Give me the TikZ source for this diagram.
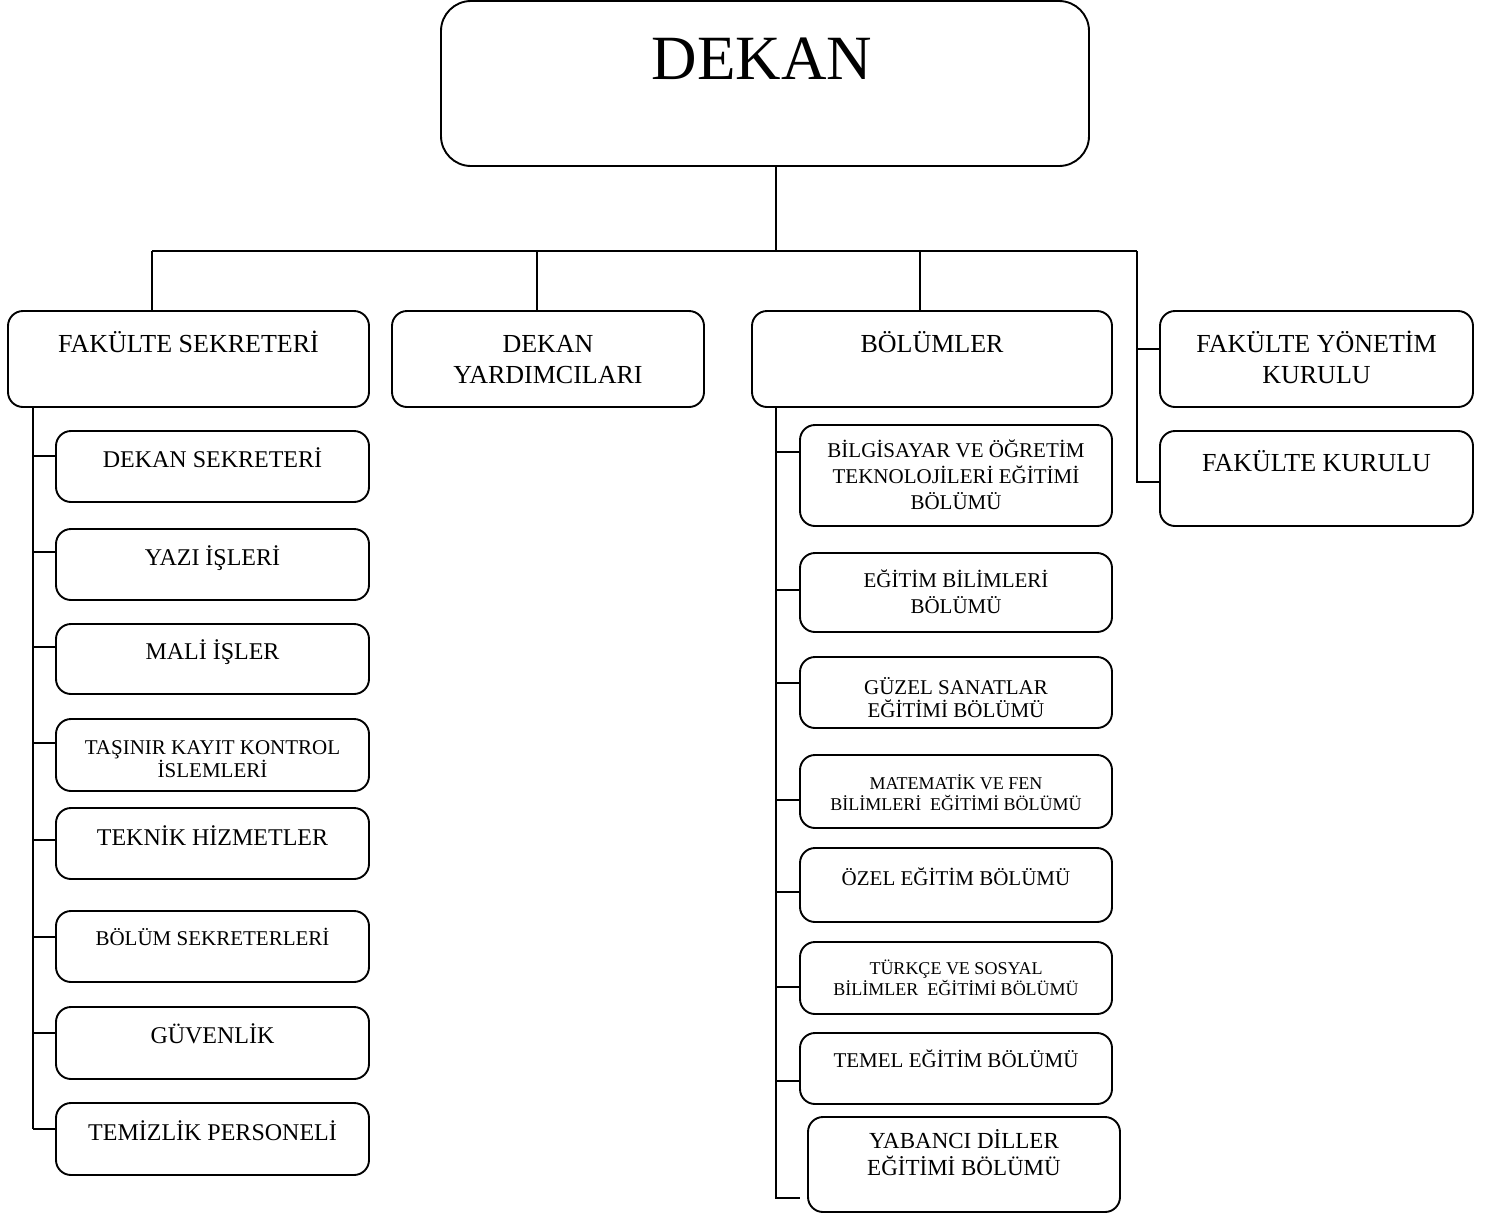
\documentclass[tikz,border=0pt]{standalone}
\usepackage{fontspec}
\setmainfont{Liberation Serif}
\usetikzlibrary{calc}
\newcommand\fA{\fontsize{26}{31}\selectfont}
\newcommand\fB{\fontsize{24}{28}\selectfont}
\newcommand\fC{\fontsize{21}{26}\selectfont}
\newcommand\fCt{\fontsize{21}{23}\selectfont}
\newcommand\fD{\fontsize{18}{20.5}\selectfont}
\newcommand\fE{\fontsize{23}{27}\selectfont}
% \obox{name}{x1}{y1}{x2}{y2}{last baseline}{font}{text}
\newcommand\obox[8]{%
  \node[orgbox, minimum width={#4-#2}, minimum height={#5-#3}] (#1) at ({(#2+#4)/2},{(#3+#5)/2}) {};
  \node[orgtxt, font=#7] (#1t) at ({(#2+#4)/2},#6) {#8};
}
\begin{document}
\begin{tikzpicture}[x=1pt,y=-1pt,
  orgbox/.style={draw=black, line width=1.9pt, rounded corners=15pt, inner sep=0pt, outer sep=0pt, fill=white},
  bigbox/.style={orgbox, rounded corners=30pt},
  orgtxt/.style={anchor=base, align=center, inner sep=0pt, text=black},
  ln/.style={draw=black, line width=1.7pt}]
\useasboundingbox (0,0) rectangle (1492,1216);
\fill[white] (0,0) rectangle (1492,1216);

% top
\node[bigbox, minimum width=648, minimum height=165] (dekan) at (765,83.5) {};
\node[orgtxt, font=\fontsize{63}{70}\selectfont] (dekant) at (762,79) {DEKAN};

% level 1
\obox{fs}{8}{311}{369}{407}{352}{\fA}{FAKÜLTE SEKRETERİ}
\obox{dy}{392}{311}{704}{407}{383}{\fA}{DEKAN\\YARDIMCILARI}
\obox{bol}{752}{311}{1112}{407}{352}{\fA}{BÖLÜMLER}
\obox{fyk}{1160}{311}{1473}{407}{383}{\fA}{FAKÜLTE YÖNETİM\\KURULU}
\obox{fk}{1160}{431}{1473}{526}{471}{\fA}{FAKÜLTE KURULU}

% left column
\obox{ds}{56}{431}{369}{502}{467}{\fB}{DEKAN SEKRETERİ}
\obox{yi}{56}{529}{369}{600}{565}{\fB}{YAZI İŞLERİ}
\obox{mi}{56}{624}{369}{694}{659}{\fB}{MALİ İŞLER}
\obox{tk}{56}{719}{369}{791}{777}{\fCt}{TAŞINIR KAYIT KONTROL\\İSLEMLERİ}
\obox{th}{56}{808}{369}{879}{845}{\fB}{TEKNİK HİZMETLER}
\obox{bs}{56}{911}{369}{982}{945}{\fC}{BÖLÜM SEKRETERLERİ}
\obox{gv}{56}{1007}{369}{1079}{1043}{\fB}{GÜVENLİK}
\obox{tp}{56}{1103}{369}{1175}{1140}{\fB}{TEMİZLİK PERSONELİ}

% right column
\obox{bil}{800}{425}{1112}{526}{509}{\fC}{BİLGİSAYAR VE ÖĞRETİM\\TEKNOLOJİLERİ EĞİTİMİ\\BÖLÜMÜ}
\obox{egb}{800}{553}{1112}{632}{613}{\fC}{EĞİTİM BİLİMLERİ\\BÖLÜMÜ}
\obox{gs}{800}{657}{1112}{728}{717}{\fCt}{GÜZEL SANATLAR\\EĞİTİMİ BÖLÜMÜ}
\obox{mat}{800}{755}{1112}{828}{810}{\fD}{MATEMATİK VE FEN\\BİLİMLERİ~ EĞİTİMİ BÖLÜMÜ}
\obox{oz}{800}{848}{1112}{922}{885}{\fC}{ÖZEL EĞİTİM BÖLÜMÜ}
\obox{trk}{800}{942}{1112}{1014}{995}{\fD}{TÜRKÇE VE SOSYAL\\BİLİMLER~ EĞİTİMİ BÖLÜMÜ}
\obox{tem}{800}{1033}{1112}{1104}{1067}{\fC}{TEMEL EĞİTİM BÖLÜMÜ}
\obox{yab}{808}{1117}{1120}{1212}{1175}{\fE}{YABANCI DİLLER\\EĞİTİMİ BÖLÜMÜ}

% connectors: top
\coordinate (j0) at (776,251);
\coordinate (jL) at (152,251);
\coordinate (jDY) at (537,251);
\coordinate (jB) at (920,251);
\coordinate (jR) at (1137,251);
\draw[ln] (dekan.south -| j0) -- (j0);
\draw[ln] (jL) -- (jR);
\draw[ln] (jL) -- (jL |- fs.north);
\draw[ln] (jDY) -- (jDY |- dy.north);
\draw[ln] (jB) -- (jB |- bol.north);
\coordinate (tfyk) at (1137,349);
\coordinate (tfk) at (1137,482);
\draw[ln] (jR) -- (tfk) -- (tfk -| fk.west);
\draw[ln] (tfyk) -- (tfyk -| fyk.west);

% left column connectors
\foreach \n/\y in {ds/456, yi/552, mi/647, tk/743, th/840, bs/937, gv/1033, tp/1129}{
  \coordinate (L\n) at (33,\y);
  \draw[ln] (L\n) -- (L\n -| \n.west);
}
\draw[ln] (fs.south -| Ltp) -- (Ltp);

% right column connectors
\foreach \n/\y in {bil/452, egb/590, gs/683, mat/800, oz/892, trk/987, tem/1081}{
  \coordinate (R\n) at (776,\y);
  \draw[ln] (R\n) -- (R\n -| \n.west);
}
\coordinate (Ryab) at (776,1198);
\coordinate (Ryabe) at (800,1198);
\draw[ln] (bol.south -| Ryab) -- (Ryab) -- (Ryabe);
\end{tikzpicture}
\end{document}
